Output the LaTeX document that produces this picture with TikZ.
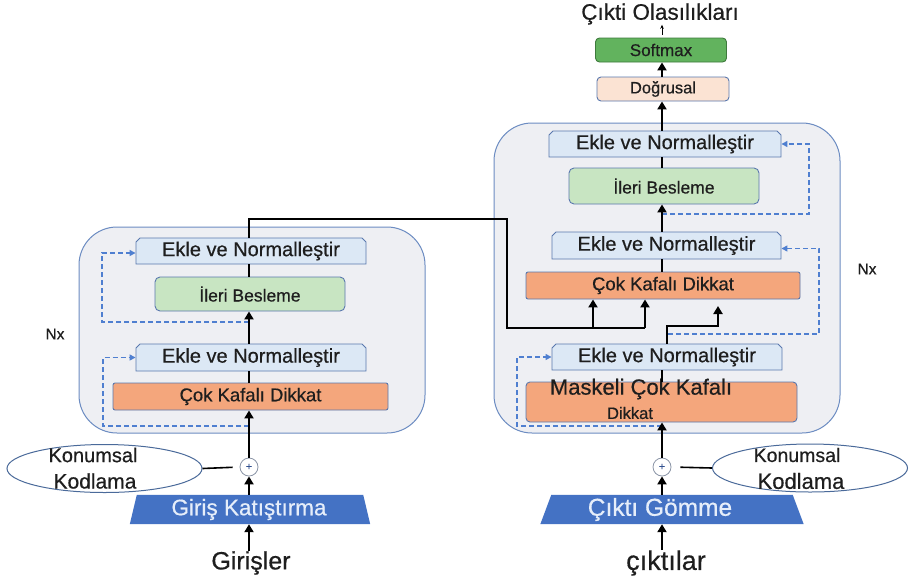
\documentclass[tikz,border=0pt]{standalone}
\usepackage{fontspec}
\setmainfont{Liberation Sans}[FakeBold=0.5]
\usetikzlibrary{shapes.misc,shapes.geometric,arrows.meta}
\definecolor{bigborder}{HTML}{6C8CC2}
\definecolor{bigfill}{HTML}{EEEFF3}
\definecolor{boxborder}{HTML}{5A78AE}
\definecolor{eklefill}{HTML}{DCE8F5}
\definecolor{ilerifill}{HTML}{C8E5C2}
\definecolor{cokfill}{HTML}{F4A67C}
\definecolor{softfill}{HTML}{62B35E}
\definecolor{softborder}{HTML}{3E7A3C}
\definecolor{dogfill}{HTML}{FBE3D3}
\definecolor{trapfill}{HTML}{4472C4}
\definecolor{residblue}{HTML}{4F7FD0}
\definecolor{textdark}{HTML}{1E1E1E}
\definecolor{plusgray}{HTML}{8A94A6}
\definecolor{plusblue}{HTML}{2F4F8F}
\definecolor{ellborder}{HTML}{4A6A9A}
\definecolor{traptextcol}{HTML}{E6EEFA}
\tikzset{
  bigbox/.style={draw=bigborder, fill=bigfill, line width=1pt, rounded corners=38pt, inner sep=0pt},
  eklebox/.style={chamfered rectangle, chamfered rectangle corners={north west,north east},
    chamfered rectangle xsep=2pt, chamfered rectangle ysep=2pt,
    draw=boxborder, fill=eklefill, line width=0.9pt, inner sep=0pt,
    font=\fontsize{20}{22}\selectfont, text=textdark},
  ileribox/.style={rectangle, rounded corners=5pt, draw=boxborder, fill=ilerifill, line width=0.9pt,
    inner sep=0pt, font=\fontsize{17.5}{20}\selectfont, text=textdark},
  cokbox/.style={rectangle, rounded corners=2pt, draw=boxborder, fill=cokfill, line width=0.9pt,
    inner sep=0pt, font=\fontsize{18.5}{20}\selectfont, text=textdark},
  softbox/.style={rectangle, rounded corners=4pt, draw=softborder, fill=softfill, line width=0.9pt,
    inner sep=0pt, font=\fontsize{17}{19}\selectfont, text=textdark},
  dogbox/.style={rectangle, rounded corners=4pt, draw=boxborder, fill=dogfill, line width=0.9pt,
    inner sep=0pt, font=\fontsize{16.5}{19}\selectfont, text=textdark},
  trapbox/.style={rectangle, draw=none, inner sep=0pt, minimum height=29pt},
  traptext/.style={text=traptextcol, inner sep=0pt},
  plusnode/.style={circle, draw=plusgray, line width=0.8pt, minimum size=18pt, inner sep=0pt,
    font=\fontsize{11}{11}\selectfont, text=plusblue},
  ellnode/.style={ellipse, draw=ellborder, line width=1pt, fill=white, minimum width=195pt,
    minimum height=48pt, inner sep=0pt},
  plaintext/.style={inner sep=0pt, text=textdark},
  spine/.style={line width=2.6pt, draw=black},
  spinearrow/.style={line width=2.6pt, draw=black, -{Triangle[length=8pt,width=9pt]}},
  resid/.style={draw=residblue, line width=1.4pt, dash pattern=on 5pt off 3pt,
    -{Triangle[length=6pt,width=6pt]}}
}
\begin{document}
\begin{tikzpicture}[x=1pt,y=-1pt]
\useasboundingbox (0,0) rectangle (912,579);
\fill[white] (0,0) rectangle (912,579);

% big boxes
\node[bigbox, minimum width=346pt, minimum height=206pt] (lBox) at (252,330) {};
\node[bigbox, minimum width=346pt, minimum height=310pt] (rBox) at (667,278) {};

% top
\node[plaintext, font=\fontsize{22.5}{24}\selectfont] (title) at (660,14) {Çıkti Olasılıkları};
\node[softbox, minimum width=131pt, minimum height=24pt] (softmax) at (661,50) {Softmax};
\node[dogbox, minimum width=132pt, minimum height=24pt] (dogrusal) at (663,89) {Doğrusal};

% right (decoder)
\node[eklebox, minimum width=232pt, minimum height=26pt] (rEkleTop) at (665,144) {Ekle ve Normalleştir};
\node[ileribox, minimum width=190pt, minimum height=36pt] (rIleri) at (664,186) {İleri Besleme};
\node[eklebox, minimum width=229pt, minimum height=27pt] (rEkle2) at (666.5,245.5) {Ekle ve Normalleştir};
\node[cokbox, minimum width=274pt, minimum height=27pt] (rCok) at (663,285.5) {Çok Kafalı Dikkat};
\node[eklebox, minimum width=230pt, minimum height=26pt] (rEkle3) at (667,357) {Ekle ve Normalleştir};
\node[cokbox, rounded corners=4pt, minimum width=271pt, minimum height=40pt] (rMask) at (661.5,402) {};
\node[plaintext, font=\fontsize{22}{24}\selectfont] (rMaskA) at (641,389) {Maskeli Çok Kafalı};
\node[plaintext, font=\fontsize{16.5}{18}\selectfont] (rMaskB) at (630,413) {Dikkat};
\node[plaintext, font=\fontsize{15.5}{17}\selectfont] (rNx) at (867,269) {Nx};

\node[plusnode] (rPlus) at (662,467) {+};
\node[ellnode] (rEll) at (810,468) {};
\node[plaintext, font=\fontsize{19.5}{21}\selectfont] (rKon) at (797,455) {Konumsal};
\node[plaintext, font=\fontsize{22}{24}\selectfont] (rKod) at (801,481) {Kodlama};
\node[trapbox, minimum width=263pt] (rTrap) at (672,509.5) {};
\fill[trapfill] (rTrap.south west) -- ([xshift=11pt]rTrap.north west) -- ([xshift=-11pt]rTrap.north east) -- (rTrap.south east) -- cycle;
\node[traptext, font=\fontsize{24.5}{27}\selectfont] (rTrapT) at (660,509.5) {Çıktı Gömme};
\node[plaintext, font=\fontsize{27}{29}\selectfont] (cOut) at (666,563) {çıktılar};

% left (encoder)
\node[eklebox, minimum width=230pt, minimum height=26pt] (lEkle1) at (251,251) {Ekle ve Normalleştir};
\node[ileribox, minimum width=190pt, minimum height=34pt] (lIleri) at (250,294) {İleri Besleme};
\node[eklebox, minimum width=230pt, minimum height=27pt] (lEkle2) at (251,357.5) {Ekle ve Normalleştir};
\node[cokbox, minimum width=275pt, minimum height=27pt] (lCok) at (250.5,396.5) {Çok Kafalı Dikkat};
\node[plaintext, font=\fontsize{15.5}{17}\selectfont] (lNx) at (55,334) {Nx};

\node[plusnode] (lPlus) at (249,467) {+};
\node[ellnode] (lEll) at (104.5,468.5) {};
\node[plaintext, font=\fontsize{20}{22}\selectfont] (lKon) at (93,455) {Konumsal};
\node[plaintext, font=\fontsize{21}{23}\selectfont] (lKod) at (95,481) {Kodlama};
\node[trapbox, minimum width=240pt] (lTrap) at (250,509.5) {};
\fill[trapfill] (lTrap.south west) -- ([xshift=7pt]lTrap.north west) -- ([xshift=-7pt]lTrap.north east) -- (lTrap.south east) -- cycle;
\node[traptext, font=\fontsize{22.5}{24}\selectfont] (lTrapT) at (249,509.5) {Giriş Katıştırma};
\node[plaintext, font=\fontsize{25}{27}\selectfont] (gIn) at (251,563) {Girişler};

% coordinates for routes
\coordinate (busCorner) at (507,219);
\coordinate (busK) at (593,328);
\coordinate (busV) at (645,328);
\coordinate (qBend) at (718,326);
\coordinate (qTip) at (718,306);
\coordinate (lr1a) at (249,322);
\coordinate (lr1b) at (102,322);
\coordinate (lr2a) at (249,426);
\coordinate (lr2b) at (103,426);
\coordinate (rr1a) at (662,214);
\coordinate (rr1b) at (809,214);
\coordinate (rr2a) at (668,334);
\coordinate (rr2b) at (819,334);
\coordinate (rr3a) at (662,426);
\coordinate (rr3b) at (517,426);

% residual dashed connections
\draw[resid] (lr1a) -- (lr1b) |- ([yshift=-2pt]lEkle1.west);
\draw[resid] (lr2a) -- (lr2b) |- (lEkle2.west);
\draw[resid] (rr1a) -- (rr1b) |- (rEkleTop.east);
\draw[resid] (rr2a) -- (rr2b) |- ([yshift=-3pt]rEkle2.east);
\draw[resid] (rr3a) -- (rr3b) |- (rEkle3.west);

% left spine
\draw[spinearrow] (gIn.north -| lPlus) -- (lTrap.south -| lPlus);
\draw[spinearrow] (lTrap.north -| lPlus) -- (lPlus.south);
\draw[spinearrow] (lPlus.north) -- (lCok.south -| lPlus);
\draw[spine] (lCok.north -| lPlus) -- (lEkle2.south -| lPlus);
\draw[spinearrow] (lEkle2.north -| lPlus) -- (lIleri.south -| lPlus);
\draw[spine] (lIleri.north -| lPlus) -- (lEkle1.south -| lPlus);
\draw[spine] (lEkle1.north -| lPlus) |- (busCorner) |- (busV);
\draw[spinearrow] (busK) -- (busK |- rCok.south);
\draw[spinearrow] (busV) -- (busV |- rCok.south);

% right spine
\draw[spinearrow] (cOut.north -| rPlus) -- (rTrap.south -| rPlus);
\draw[spinearrow] (rTrap.north -| rPlus) -- (rPlus.south);
\draw[spinearrow] (rPlus.north) -- (rMask.south -| rPlus);
\draw[spine] (rMask.north -| rPlus) -- (rEkle3.south -| rPlus);
\draw[spinearrow] (rEkle3.north) |- (qBend) -- (qTip);
\draw[spine] (rCok.north -| rPlus) -- (rEkle2.south -| rPlus);
\draw[spinearrow] (rEkle2.north -| rPlus) -- (rIleri.south -| rPlus);
\draw[spine] (rIleri.north -| rPlus) -- (rEkleTop.south -| rPlus);
\draw[spinearrow] (rEkleTop.north -| rPlus) -- (dogrusal.south -| rPlus);
\draw[spinearrow] (dogrusal.north -| rPlus) -- (softmax.south -| rPlus);
\draw[line width=0.7pt, -{Stealth[length=4pt,width=3.5pt]}, shorten <=3pt] (softmax.north -| rPlus) -- (title.south -| rPlus);

% positional encoding links
\draw[line width=1.6pt, shorten >=7pt] (lEll.east) -- (lPlus.west);
\draw[line width=1.6pt, shorten <=9pt] (rPlus.east) -- (rEll.west);
\end{tikzpicture}
\end{document}
